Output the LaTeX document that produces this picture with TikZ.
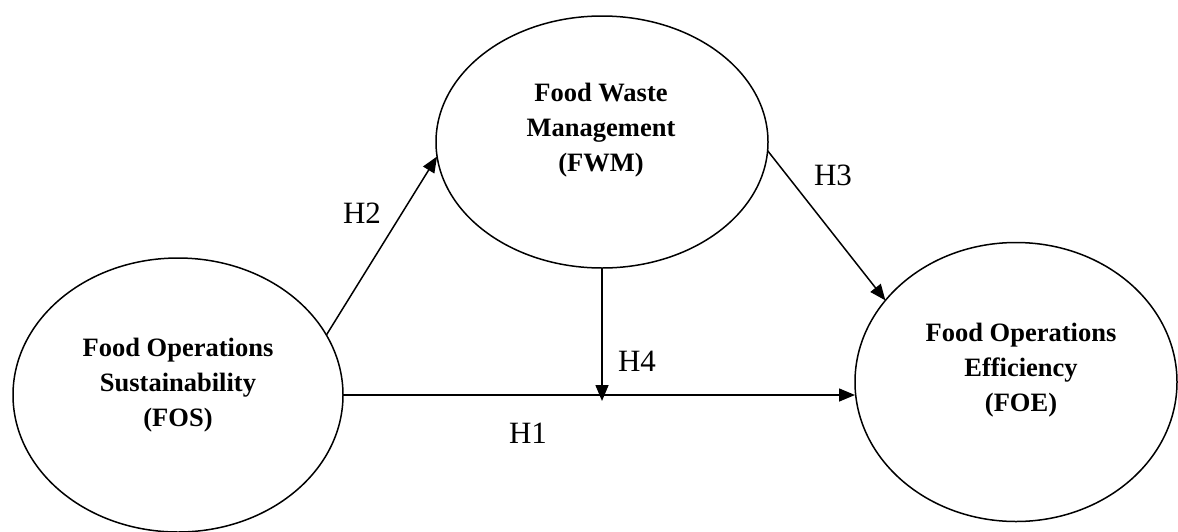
\documentclass[tikz,border=0pt]{standalone}
\usepackage{fontspec}
\setmainfont{Liberation Serif}
\usetikzlibrary{shapes.geometric,arrows.meta,calc}
\tikzset{
  construct/.style={draw=black, line width=1.5pt, ellipse, inner sep=0pt, outer sep=0pt},
  ctext/.style={align=center, font=\fontsize{26.5}{35}\selectfont\bfseries, inner sep=0pt},
  hyp/.style={font=\fontsize{31}{36}\selectfont, inner sep=0pt},
  path/.style={draw=black, line width=1.5pt, -{Triangle[length=16pt,width=13pt]}}
}
\begin{document}
\begin{tikzpicture}[x=1pt,y=-1pt]
\useasboundingbox (0,0) rectangle (1178,531);
\node[construct, minimum width=330pt, minimum height=274pt] (fos) at (178,395) {};
\node[construct, minimum width=332pt, minimum height=252pt] (fwm) at (602,142) {};
\node[construct, minimum width=322pt, minimum height=279pt] (foe) at (1016,382) {};
\node[ctext] (fostext) at (178,385.5) {Food Operations\\Sustainability\\(FOS)};
\node[ctext] (fwmtext) at (601,130.5) {Food Waste\\Management\\(FWM)};
\node[ctext] (foetext) at (1021,370.5) {Food Operations\\Efficiency\\(FOE)};
\coordinate (h4end) at ($(fwm.south |- fos.east)+(0,6)$);
\draw[path] (fos.east) -- (fos.east -| foe.west);
\draw[path] (fos.22) -- (fwm.185.5);
\draw[path] (fwm.-3.4) -- (foe.148.9);
\draw[path] (fwm.south) -- (h4end);
\node[hyp] (h1) at (528,433) {H1};
\node[hyp] (h2) at (362,213) {H2};
\node[hyp] (h3) at (833,175) {H3};
\node[hyp] (h4) at (637,361) {H4};
\end{tikzpicture}
\end{document}
